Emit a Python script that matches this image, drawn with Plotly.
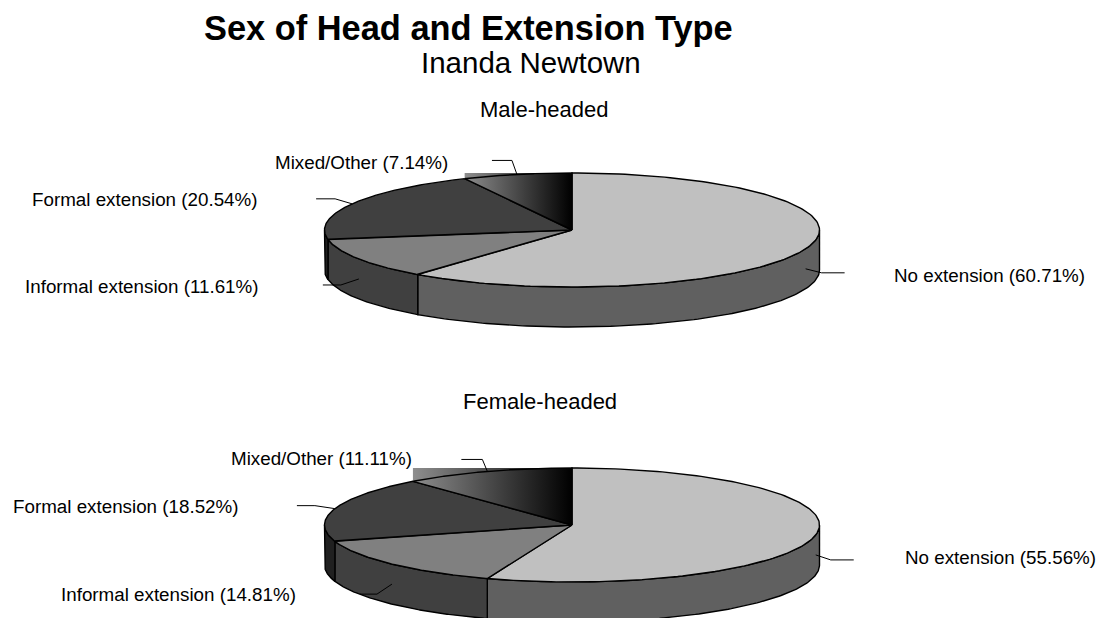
import numpy as np
import plotly.graph_objects as go

# ---------- data ----------
categories = ["No extension", "Informal extension", "Formal extension", "Mixed/Other"]
male_values = [60.71, 11.61, 20.54, 7.14]
female_values = [55.56, 14.81, 18.52, 11.11]
pie_titles = ["Male-headed", "Female-headed"]
chart_title = "Sex of Head and Extension Type"
chart_subtitle = "Inanda Newtown"

# ---------- style / layout ----------
W, H = 1105, 618
TOP_COLORS = ["#c0c0c0", "#808080", "#404040", None]
SIDE_COLORS = ["#606060", "#404040", "#202020", "#202020"]
GRAD = [[0, "#8e8e8e"], [1, "#000000"]]
LINE = dict(color="#000000", width=1.4)
FONT = "Liberation Sans, Arial, sans-serif"
LABEL_SIZE = 18.8

PIES = [
    dict(values=male_values, title=pie_titles[0], cx=572, cy=230, rx=247.5, ry=57, depth=40, title_x=544, title_y=109,
         label_pos=[(893, 275), (24, 286), (31, 199), (274, 162)],
         leader=[((16, 4), (39, 4)), ((-18, 6), (-36, 6)), ((-17, -5), (-36, -5)), ((-5, -14), (-25, -14))]),
    dict(values=female_values, title=pie_titles[1], cx=572, cy=525, rx=247.5, ry=57, depth=40, title_x=540, title_y=401,
         label_pos=[(904, 557), (60, 594), (12, 506), (230, 458)],
         leader=[((15, 5), (38, 5)), ((-15, 10), (-32, 10)), ((-20, -3), (-38, -3)), ((-5, -12), (-26, -12))]),
]

fig = go.Figure()


def rim(p, a):
    a = np.radians(a)
    return p["cx"] + p["rx"] * np.sin(a), p["cy"] - p["ry"] * np.cos(a)


def add_poly(xs, ys, fill=None, gradient=None, line=True):
    kw = dict(x=list(xs), y=list(ys), mode="lines", hoverinfo="skip", showlegend=False)
    if gradient is not None:
        kw.update(fill="toself", fillgradient=dict(type="horizontal", colorscale=gradient), line=dict(width=0))
    elif fill is not None:
        kw.update(fill="toself", fillcolor=fill)
        kw["line"] = LINE if line else dict(width=0)
    else:
        kw["line"] = LINE
    fig.add_trace(go.Scatter(**kw))


annotations = []


def text(x, y, s, size, anchor="left", bold=False):
    annotations.append(dict(x=x, y=y, xref="x", yref="y", text=f"<b>{s}</b>" if bold else s, showarrow=False,
                            xanchor=anchor, yanchor="middle", borderpad=0,
                            font=dict(family=FONT, size=size, color="#000000")))


for p in PIES:
    vals = np.array(p["values"], dtype=float)
    edges = np.concatenate([[0], np.cumsum(vals) / vals.sum() * 360])
    # side walls (visible front half only)
    for i in range(len(vals)):
        a0, a1 = max(edges[i], 90), min(edges[i + 1], 270)
        if a1 <= a0:
            continue
        t = np.linspace(a0, a1, 120)
        x, y = rim(p, t)
        add_poly(np.r_[x, x[::-1], x[0]], np.r_[y, y[::-1] + p["depth"], y[0]], fill=SIDE_COLORS[i])
    # top slices
    for i in range(len(vals)):
        t = np.linspace(edges[i], edges[i + 1], 160)
        x, y = rim(p, t)
        px = np.r_[p["cx"], x, p["cx"]]
        py = np.r_[p["cy"], y, p["cy"]]
        if TOP_COLORS[i] is None:
            # gradient rectangle corner poking above the ellipse, as in the source picture
            top = p["cy"] - p["ry"]
            add_poly([p["cx"], x[0], x[0], p["cx"], p["cx"]], [p["cy"], y[0], top, top, p["cy"]], gradient=GRAD)
            add_poly(px, py)
        else:
            add_poly(px, py, fill=TOP_COLORS[i])
    # labels and leaders
    for i, c in enumerate(categories):
        mid = (edges[i] + edges[i + 1]) / 2
        ax, ay = rim(p, mid)
        if 90 < mid < 270:
            ay += p["depth"] / 2
        (e1x, e1y), (e2x, e2y) = p["leader"][i]
        fig.add_trace(go.Scatter(x=[ax, ax + e1x, ax + e2x], y=[ay, ay + e1y, ay + e2y],
                                 mode="lines", line=dict(color="#000000", width=1), hoverinfo="skip", showlegend=False))
        lx, ly = p["label_pos"][i]
        text(lx, ly, f"{c} ({vals[i]:.2f}%)", LABEL_SIZE)
    text(p["title_x"], p["title_y"], p["title"], 22, anchor="center")

text(468.5, 28, chart_title, 34.4, anchor="center", bold=True)
text(531, 62, chart_subtitle, 29.5, anchor="center")

fig.update_layout(
    width=W, height=H, margin=dict(l=0, r=0, t=0, b=0), autosize=False,
    paper_bgcolor="#ffffff", plot_bgcolor="#ffffff", showlegend=False, annotations=annotations,
    xaxis=dict(range=[0, W], visible=False, fixedrange=True),
    yaxis=dict(range=[H, 0], visible=False, fixedrange=True),
)
fig.write_html("out.html", config=dict(displayModeBar=False),
               post_script="document.body.style.margin='0';document.body.style.overflow='hidden';")
